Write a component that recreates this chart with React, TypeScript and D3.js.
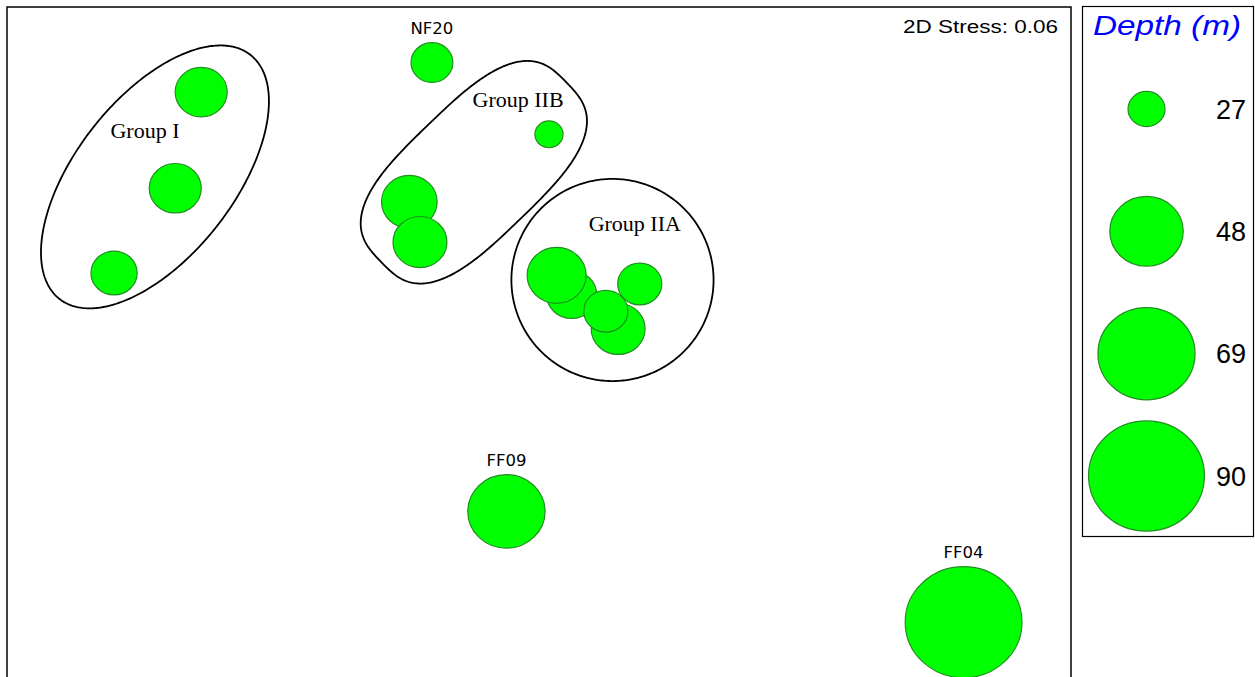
import React from "react";
import * as d3 from "d3";

// nMDS ordination of sampling stations, bubble size = depth (m)
const sampleX = [-1.016, -1.094, -1.278, -0.322, 0.03, -0.39, -0.358, 0.098, 0.053, 0.303, 0.238, 0.201, -0.098, 1.277];
const sampleY = [0.744, 0.455, 0.2, 0.833, 0.617, 0.414, 0.293, 0.135, 0.193, 0.167, 0.032, 0.085, -0.517, -0.85];
const sampleDepth = [34, 34, 31, 29, 24, 36, 35, 33, 38, 30, 35, 30, 51, 91];
const sampleLabel = ["", "", "", "NF20", "", "", "", "", "", "", "", "", "FF09", "FF04"];

// Group outlines: centre, semi-axes, rotation (deg) and superellipse exponent
const groupNames = ["Group I", "Group IIB", "Group IIA"];
const groupCx = [-1.155, -0.196, 0.221];
const groupCy = [0.489, 0.503, 0.179];
const groupA = [0.466, 0.388, 0.304];
const groupB = [0.238, 0.198, 0.304];
const groupAngle = [52, 44, 0];
const groupExp = [2, 3, 2];
const groupLabelX = [-1.185, -0.063, 0.288];
const groupLabelY = [0.606, 0.70, 0.326];

const legendDepths = [27, 48, 69, 90];
const stressText = "2D Stress: 0.06";

const W = 1255;
const H = 677;

export default function App() {
  const x = d3.scaleLinear().domain([-1.6, 1.6]).range([7, 1071]);
  const y = d3.scaleLinear().domain([1, -1]).range([7, 672]);

  const rScale = d3.scaleRadial().domain([27, 90]).range([18.5, 58]);
  const aspect = 0.95;

  const line = d3.line<[number, number]>().curve(d3.curveLinearClosed);

  const outlinePath = (i: number) => {
    const n = groupExp[i];
    const th = (groupAngle[i] * Math.PI) / 180;
    const pts: [number, number][] = d3.range(0, 360).map((k) => {
      const t = (k * Math.PI) / 180;
      const c = Math.cos(t);
      const s = Math.sin(t);
      const X = groupA[i] * Math.sign(c) * Math.pow(Math.abs(c), 2 / n);
      const Y = groupB[i] * Math.sign(s) * Math.pow(Math.abs(s), 2 / n);
      const dx = X * Math.cos(th) - Y * Math.sin(th);
      const dy = X * Math.sin(th) + Y * Math.cos(th);
      return [x(groupCx[i] + dx), y(groupCy[i] + dy)];
    });
    return line(pts) || "";
  };

  const legendY = d3.scaleLinear().domain([0, legendDepths.length - 1]).range([109, 476]);

  const fill = "#00ff00";
  const stroke = "#1f8f1f";

  return (
    <svg
      width={W}
      height={H}
      style={{ position: "absolute", left: 0, top: 0, background: "#fff" }}
    >
      <rect x={0} y={0} width={W} height={H} fill="#fff" />
      {/* plot frame */}
      <rect x={7} y={7} width={1064} height={700} fill="none" stroke="#000" strokeWidth={1.5} />

      {/* group outlines */}
      {groupNames.map((g, i) => (
        <path key={"o" + g} d={outlinePath(i)} fill="none" stroke="#000" strokeWidth={1.8} />
      ))}

      {/* samples */}
      {sampleX.map((sx, i) => {
        const rx = rScale(sampleDepth[i]);
        return (
          <ellipse
            key={"s" + i}
            cx={x(sx)}
            cy={y(sampleY[i])}
            rx={rx}
            ry={rx * aspect}
            fill={fill}
            stroke={stroke}
            strokeWidth={1.2}
          />
        );
      })}

      {/* sample labels */}
      {sampleX.map((sx, i) =>
        sampleLabel[i] ? (
          <text
            key={"l" + i}
            x={x(sx)}
            y={y(sampleY[i]) - rScale(sampleDepth[i]) * aspect - 8.5}
            textAnchor="middle"
            fontFamily="DejaVu Sans, Verdana, sans-serif"
            fontSize={16.5}
            fill="#000"
          >
            {sampleLabel[i]}
          </text>
        ) : null
      )}

      {/* group labels */}
      {groupNames.map((g, i) => (
        <text
          key={"g" + g}
          x={x(groupLabelX[i])}
          y={y(groupLabelY[i])}
          textAnchor="middle"
          fontFamily="Liberation Serif, Times New Roman, serif"
          fontSize={22}
          fill="#000"
        >
          {g}
        </text>
      ))}

      {/* stress */}
      <text
        x={903}
        y={33}
        fontFamily="Liberation Sans, Arial, sans-serif"
        fontSize={18}
        textLength={155}
        lengthAdjust="spacingAndGlyphs"
        fill="#000"
      >
        {stressText}
      </text>

      {/* legend */}
      <rect x={1082.5} y={6.5} width={171} height={530} fill="#fff" stroke="#000" strokeWidth={1.2} />
      <text
        x={1093}
        y={34.5}
        fontFamily="Liberation Sans, Arial, sans-serif"
        fontStyle="italic"
        fontSize={27}
        textLength={148}
        lengthAdjust="spacingAndGlyphs"
        fill="#0000ff"
      >
        Depth (m)
      </text>
      {legendDepths.map((d, i) => {
        const rx = rScale(d);
        return (
          <g key={"lg" + d}>
            <ellipse
              cx={1146.5}
              cy={legendY(i)}
              rx={rx}
              ry={rx * aspect}
              fill={fill}
              stroke={stroke}
              strokeWidth={1.2}
            />
            <text
              x={1231}
              y={legendY(i) + 9.5}
              textAnchor="middle"
              fontFamily="Liberation Sans, Arial, sans-serif"
              fontSize={27}
              fill="#000"
            >
              {d}
            </text>
          </g>
        );
      })}
    </svg>
  );
}
